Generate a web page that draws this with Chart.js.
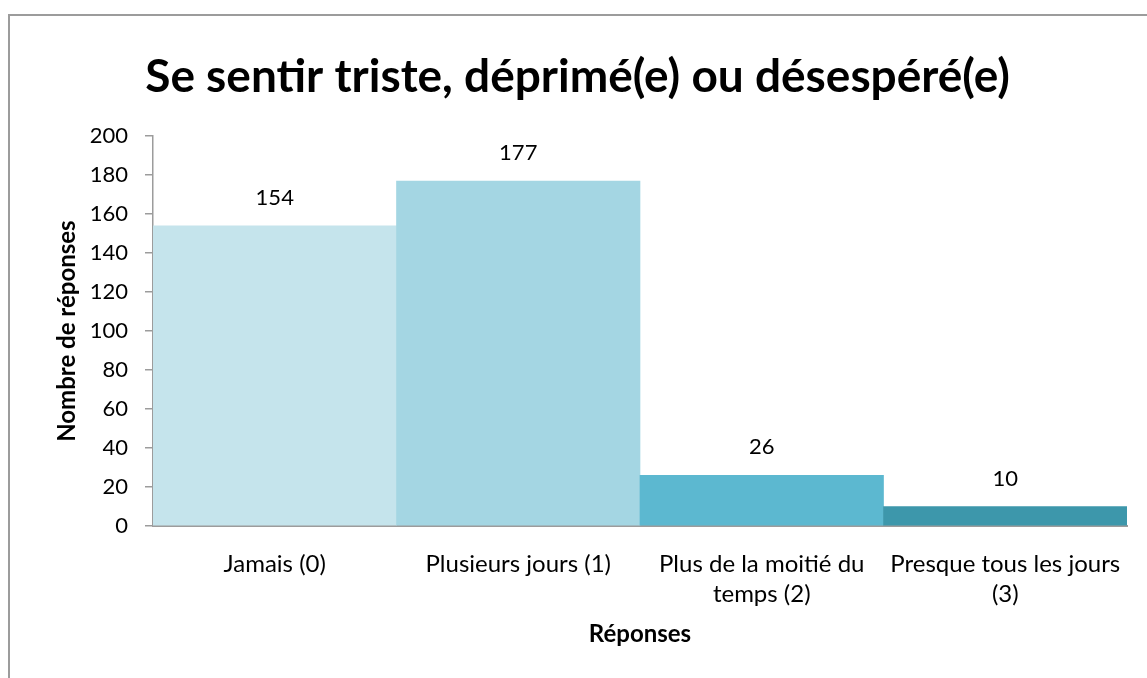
<!DOCTYPE html>
<html>
<head>
    <meta charset="UTF-8">
    <title>Se sentir triste, déprimé(e) ou désespéré(e)</title>
    <script src="https://cdn.jsdelivr.net/npm/chart.js"></script>
    <style>
        body {
            margin: 0;
            background: #fff;
            font-family: Lato, sans-serif;
        }

        .wrap {
            position: relative;
            width: 1147px;
            height: 678px;
            overflow: hidden;
        }

        /* frame of the chart, only left and top edges are visible */
        .frame {
            position: absolute;
            left: 8px;
            top: 14px;
            width: 1200px;
            height: 700px;
            border-left: 2px solid #9c9c9c;
            border-top: 2px solid #9c9c9c;
        }

        canvas {
            position: absolute;
            left: 0;
            top: 0;
        }
    </style>
</head>
<body>
    <div class="wrap">
        <div class="frame"></div>
        <canvas id="chart" width="1147" height="678"></canvas>
    </div>

    <script>
        // data
        var categories = [
            'Jamais (0)',
            'Plusieurs jours (1)',
            ['Plus de la moitié du', 'temps (2)'],
            ['Presque tous les jours', '(3)']
        ];
        var responses = [154, 177, 26, 10];
        var yTicks = [0, 20, 40, 60, 80, 100, 120, 140, 160, 180, 200];

        var barColors = ['#c5e4ec', '#a4d6e3', '#5cb8d0', '#3d97ab'];
        var axisColor = '#9c9c9c';
        var fontFamily = 'Lato, sans-serif';

        // writes the value above each bar
        var valueLabels = {
            id: 'valueLabels',
            afterDatasetsDraw: function (chart) {
                var ctx = chart.ctx;
                var meta = chart.getDatasetMeta(0);
                ctx.save();
                ctx.font = '22px ' + fontFamily;
                ctx.fillStyle = '#000';
                ctx.textAlign = 'center';
                ctx.textBaseline = 'middle';
                meta.data.forEach(function (bar, i) {
                    ctx.fillText(responses[i], bar.x, bar.y - 28);
                });
                ctx.restore();
            }
        };

        var ctx = document.getElementById('chart').getContext('2d');
        var chart = new Chart(ctx, {
            type: 'bar',
            data: {
                labels: categories,
                datasets: [{
                    label: 'Nombre de réponses',
                    data: responses,
                    backgroundColor: barColors,
                    borderWidth: 0,
                    barPercentage: 1,
                    categoryPercentage: 1
                }]
            },
            options: {
                responsive: false,
                animation: false,
                layout: {
                    padding: { left: 28, right: 20, top: 0, bottom: 0 }
                },
                plugins: {
                    legend: { display: false },
                    tooltip: { enabled: false },
                    title: {
                        display: true,
                        text: 'Se sentir triste, déprimé(e) ou désespéré(e)',
                        color: '#000',
                        font: { family: fontFamily, size: 46, weight: 'bold' },
                        padding: { top: 50, bottom: 31 }
                    }
                },
                scales: {
                    x: {
                        grid: { display: false },
                        border: { display: true, color: axisColor, width: 2 },
                        ticks: {
                            color: '#000',
                            font: { family: fontFamily, size: 24, lineHeight: 1.25 },
                            padding: 15,
                            maxRotation: 0,
                            autoSkip: false
                        },
                        title: {
                            display: true,
                            text: 'Réponses',
                            color: '#000',
                            font: { family: fontFamily, size: 24, weight: 'bold' },
                            padding: { top: 29, bottom: 29 }
                        },
                        afterFit: function (scale) {
                            scale.height = 152;
                        }
                    },
                    y: {
                        min: 0,
                        max: 200,
                        afterBuildTicks: function (scale) {
                            scale.ticks = yTicks.map(function (v) { return { value: v }; });
                        },
                        grid: {
                            drawOnChartArea: false,
                            drawTicks: true,
                            tickLength: 8,
                            color: axisColor,
                            lineWidth: 1.5
                        },
                        border: { display: true, color: axisColor, width: 1.5 },
                        ticks: {
                            color: '#000',
                            font: { family: fontFamily, size: 22 },
                            padding: 17
                        },
                        title: {
                            display: true,
                            text: 'Nombre de réponses',
                            color: '#000',
                            font: { family: fontFamily, size: 24, weight: 'bold' },
                            padding: { top: 25, bottom: 25 }
                        },
                        afterFit: function (scale) {
                            scale.width = 125;
                        }
                    }
                }
            },
            plugins: [valueLabels]
        });
    </script>
</body>
</html>
